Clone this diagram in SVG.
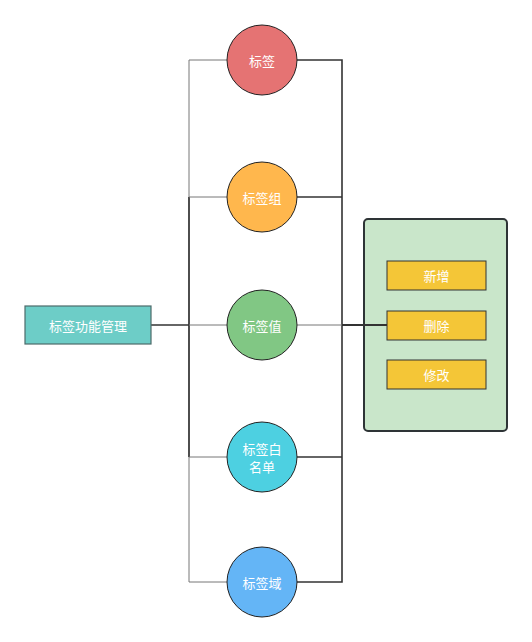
<svg xmlns="http://www.w3.org/2000/svg" width="532" height="642" viewBox="0 0 532 642">
<style>
.t{font-family:"Noto Sans CJK SC","Noto Sans",sans-serif;font-size:13px;fill:#ffffff;text-anchor:middle;dominant-baseline:central}
.c{stroke:#222;stroke-width:1}
.lg{stroke:#777;stroke-width:1;fill:none}
.ld{stroke:#333;stroke-width:1.6;fill:none}
.box{fill:#F4C637;stroke:#333;stroke-width:1}
</style>
<rect width="532" height="642" fill="#fff"/>
<g id="container"><rect x="364" y="219" width="143" height="212" rx="4" fill="#C9E6CA" stroke="#2e3436" stroke-width="2"/></g>
<g id="connectors">
<path class="lg" d="M227,60 H189 V582 H227"/>
<path class="ld" d="M189,197 V457"/>
<path class="lg" d="M227,197 H189"/>
<path class="lg" d="M227,457 H189"/>
<path class="ld" d="M151,325 H189"/>
<path class="lg" d="M189,325 H227"/>
<path class="ld" d="M297,60 H342 V582 H297"/>
<path class="ld" d="M297,197 H342"/>
<path class="ld" d="M297,457 H342"/>
<path class="lg" d="M297,325 H342"/>
<path class="ld" d="M342,325 H387" style="stroke-width:2"/>
</g>
<g id="main"><rect x="25" y="306" width="126" height="38" fill="#6DCDC7" stroke="#4d6b6a" stroke-width="1.2"/><text class="t" x="88" y="325">标签功能管理</text></g>
<g id="n1"><circle class="c" cx="262" cy="60" r="35" fill="#E57373"/><text class="t" x="262" y="60">标签</text></g>
<g id="n2"><circle class="c" cx="262" cy="197" r="35" fill="#FFB74D"/><text class="t" x="262" y="197">标签组</text></g>
<g id="n3"><circle class="c" cx="262" cy="325" r="35" fill="#81C784"/><text class="t" x="262" y="325">标签值</text></g>
<g id="n4"><circle class="c" cx="262" cy="457" r="35" fill="#4DD0E1"/><text class="t" x="262" y="448">标签白</text><text class="t" x="262" y="466">名单</text></g>
<g id="n5"><circle class="c" cx="262" cy="582" r="35" fill="#64B5F6"/><text class="t" x="262" y="582">标签域</text></g>
<g id="b1"><rect class="box" x="387" y="261" width="99" height="29"/><text class="t" x="436.5" y="275.5">新增</text></g>
<g id="b2"><rect class="box" x="387" y="311" width="99" height="29"/><text class="t" x="436.5" y="325.5">删除</text></g>
<g id="b3"><rect class="box" x="387" y="360" width="99" height="29"/><text class="t" x="436.5" y="374.5">修改</text></g>
</svg>
